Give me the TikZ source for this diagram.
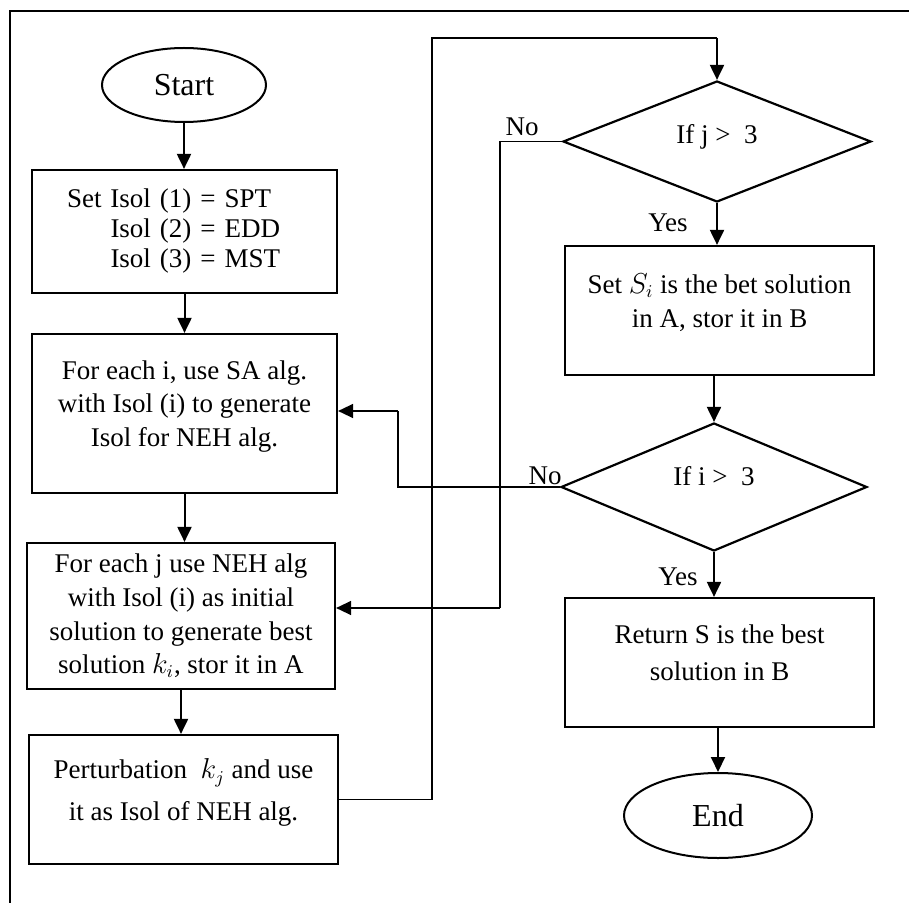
\documentclass[tikz,border=0pt]{standalone}
\usepackage{fontspec}
\setmainfont{Liberation Serif}
\usepackage{tikz}
\usetikzlibrary{arrows.meta,shapes.geometric}

\begin{document}
\begin{tikzpicture}[x=0.5pt,y=-0.5pt,
  stepBox/.style={draw,line width=1.1pt,align=center,inner sep=0pt,font=\fontsize{13.5}{16.8}\selectfont},
  decisionBox/.style={diamond,aspect=2.5,draw,line width=1.1pt,inner sep=0pt,font=\fontsize{13.5}{16.8}\selectfont},
  termNode/.style={ellipse,draw,line width=1pt,inner sep=0pt,font=\fontsize{16}{19}\selectfont},
  flowArrow/.style={line width=1pt,-{Triangle[length=7.5pt,width=7pt]}},
  loopLine/.style={line width=0.6pt},
  edgeText/.style={font=\fontsize{13.5}{16.8}\selectfont}]
\useasboundingbox (0,0) rectangle (909,903);
\draw[line width=1.1pt] (909,11)--(10,11)--(10,903);

\node[termNode,minimum width=82pt,minimum height=37pt] (start) at (184,85) {Start};
\node[stepBox,minimum width=152.5pt,minimum height=61.5pt,text width=117.5pt,inner xsep=17.5pt,align=left] (setIsol) at (184.5,231.5) {Set Isol (1) = SPT\\[-1.8pt]\phantom{Set }Isol (2) = EDD\\[-1.8pt]\phantom{Set }Isol (3) = MST};
\node[stepBox,minimum width=152.5pt,minimum height=79.5pt,text depth=10pt] (eachI) at (184.5,413.5) {For each i, use SA alg.\\with Isol (i) to generate\\Isol for NEH alg.};
\node[stepBox,minimum width=154pt,minimum height=73pt] (eachJ) at (181,616) {For each j use NEH alg\\with Isol (i) as initial\\solution to generate best\\solution $k_i$, stor it in A};
\node[stepBox,minimum width=154.5pt,minimum height=64.5pt,text depth=10pt] (perturb) at (183.5,799.5) {Perturbation\ \ $k_j$ and use\\[4pt]it as Isol of NEH alg.};

\node[decisionBox,minimum width=154pt,minimum height=60.5pt,text depth=8pt] (ifJ) at (717,141.5) {If j >\ \ 3};
\node[stepBox,minimum width=154.5pt,minimum height=64.5pt,text depth=10pt] (bestS) at (719.5,310.5) {Set $S_i$ is the bet solution\\in A, stor it in B};
\node[decisionBox,minimum width=153pt,minimum height=64pt,text depth=11pt] (ifI) at (714,487) {If i >\ \ 3};
\node[stepBox,minimum width=154.5pt,minimum height=64.5pt,text depth=10pt] (returnS) at (719.5,662.5) {Return S is the best\\[1.5pt]solution in B};
\node[termNode,minimum width=94pt,minimum height=42.5pt] (finish) at (718,815.5) {End};

\node[edgeText] (noJ) at (522,127) {No};
\node[edgeText] (yesJ) at (668,223) {Yes};
\node[edgeText] (noI) at (545,476) {No};
\node[edgeText] (yesI) at (678,577) {Yes};

\draw[flowArrow] (start.south) -- (start.south |- setIsol.north);
\draw[flowArrow] (setIsol.south) -- (setIsol.south |- eachI.north);
\draw[flowArrow] (eachI.south) -- (eachI.south |- eachJ.north);
\draw[flowArrow] (eachJ.south) -- (eachJ.south |- perturb.north);
\draw[flowArrow] (ifJ.south) -- (ifJ.south |- bestS.north);
\draw[flowArrow] (bestS.south -| ifI.north) -- (ifI.north);
\draw[flowArrow] (ifI.south) -- (ifI.south |- returnS.north);
\draw[flowArrow] (returnS.south -| finish.north) -- (finish.north);

\coordinate (topTurn) at (432,38);
\draw[loopLine] (perturb.east) -| (topTurn) -- (topTurn -| ifJ.north);
\draw[flowArrow] (topTurn -| ifJ.north) -- (ifJ.north);
\coordinate (noJTurn) at (500,608);
\draw[loopLine] (ifJ.west) -| (noJTurn);
\draw[flowArrow,line width=0.7pt] (noJTurn) -- (eachJ.east |- noJTurn);
\coordinate (noITurn) at (398,411);
\draw[loopLine] (ifI.west) -| (noITurn);
\draw[flowArrow,line width=0.7pt] (noITurn) -- (eachI.east |- noITurn);
\end{tikzpicture}
\end{document}
